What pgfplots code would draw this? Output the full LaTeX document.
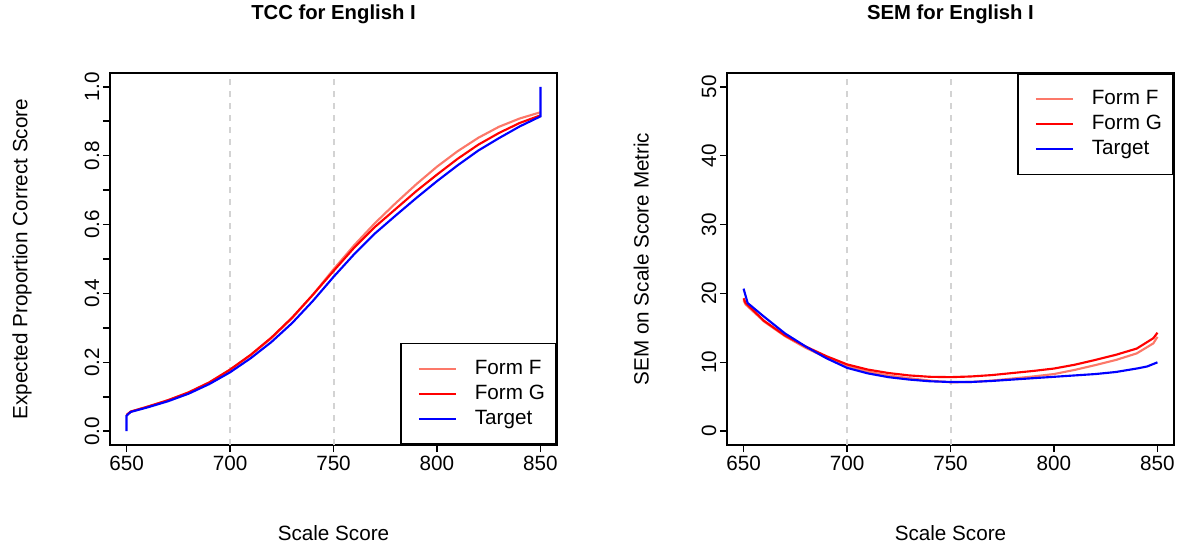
\documentclass[border=0pt]{standalone}
\usepackage{pgfplots}
\pgfplotsset{compat=1.18}
\usepackage{fontspec}
\setmainfont{Liberation Sans}
\definecolor{formF}{RGB}{252,120,105}
\definecolor{gridgray}{RGB}{211,211,211}
\newcommand{\lblfont}{\fontsize{15.5}{18}\selectfont}
\pgfplotsset{
  myaxis/.style={
    scale only axis, width=335.25pt, height=279pt,
    xmin=642, xmax=858,
    xtick={650,700,750,800,850},
    tick align=outside, tick pos=left,
    major tick length=5.25pt, minor tick length=5.25pt,
    axis line style={line width=1.2pt},
    every tick/.style={black, line width=1.2pt},
    /pgf/number format/assume math mode=true,
    tick label style={font=\lblfont},
    label style={font=\lblfont},
    xticklabel style={anchor=north, inner sep=0pt, outer sep=2.7pt},
    yticklabel style={rotate=90, anchor=south, inner sep=0pt, outer sep=2.7pt},
    title style={font=\bfseries\fontsize{15.2}{18}\selectfont, at={(axis description cs:0.5,1.137)}, anchor=center, yshift=0pt},
    xlabel style={at={(axis description cs:0.5,-0.2366)}, anchor=center},
    legend cell align=left,
    legend image code/.code={
      \path[draw=none, fill=none] (-5pt,0pt) rectangle (42pt,0pt);
      \draw[##1] (0pt,0pt) -- (27.5pt,0pt);
    },
    legend style={draw=black, line width=1.2pt, font=\lblfont,
      inner xsep=8.5pt, inner ysep=12pt, row sep=4.75pt, column sep=0pt,
      nodes={inner sep=0pt, text height=11pt, text depth=3pt}},
  },
  curve/.style={line width=1.6pt},
  gline/.style={gridgray, line width=1.5pt, dash pattern=on 4.5pt off 4.5pt, forget plot},
}
\begin{document}
\begin{tikzpicture}
\useasboundingbox (0,0) rectangle (883.5pt,408pt);
% ---------------- TCC ----------------
\begin{axis}[myaxis, at={(82.5pt,74.25pt)}, anchor=south west,
  ymin=-0.04, ymax=1.04,
  ytick={0,0.2,0.4,0.6,0.8,1.0},
  minor ytick={0.1,0.3,0.5,0.7,0.9},
  yticklabel style={/pgf/number format/.cd, fixed, fixed zerofill, precision=1},
  title={TCC for English I},
  xlabel={Scale Score},
  ylabel={Expected Proportion Correct Score},
  ylabel style={at={(axis description cs:-0.197,0.5)}, anchor=center},
  legend style={at={(axis description cs:1,0)}, anchor=south east},
]
\addplot[gline] coordinates {(700,-0.04) (700,1.04)};
\addplot[gline] coordinates {(750,-0.04) (750,1.04)};
\addplot[curve, formF] coordinates {
(650,0.047) (652,0.057) (660,0.071) (670,0.090) (680,0.112) (690,0.141)
(700,0.178) (710,0.221) (720,0.270) (730,0.328) (740,0.396) (750,0.470)
(760,0.540) (770,0.604) (780,0.662) (790,0.717) (800,0.768) (810,0.813)
(820,0.852) (830,0.884) (840,0.908) (850,0.926)};
\addlegendentry{Form F}
\addplot[curve, red] coordinates {
(650,0.047) (652,0.057) (660,0.071) (670,0.090) (680,0.113) (690,0.142)
(700,0.179) (710,0.222) (720,0.272) (730,0.330) (740,0.396) (750,0.465)
(760,0.533) (770,0.593) (780,0.645) (790,0.697) (800,0.745) (810,0.791)
(820,0.832) (830,0.866) (840,0.895) (850,0.917)};
\addlegendentry{Form G}
\addplot[curve, blue] coordinates {
(650,0) (650,0.045) (652,0.056) (660,0.069) (670,0.087) (680,0.109)
(690,0.137) (700,0.171) (710,0.212) (720,0.259) (730,0.314) (740,0.378)
(750,0.448) (760,0.514) (770,0.574) (780,0.626) (790,0.677) (800,0.726)
(810,0.772) (820,0.815) (830,0.851) (840,0.885) (850,0.914) (850,1.0)};
\addlegendentry{Target}
\end{axis}
% ---------------- SEM ----------------
\begin{axis}[myaxis, at={(545.25pt,74.25pt)}, anchor=south west,
  ymin=-2, ymax=52,
  ytick={0,10,20,30,40,50},
  title={SEM for English I},
  xlabel={Scale Score},
  ylabel={SEM on Scale Score Metric},
  ylabel style={at={(axis description cs:-0.192,0.5)}, anchor=center},
  legend style={at={(axis description cs:1,1)}, anchor=north east},
]
\addplot[gline] coordinates {(700,-2) (700,52)};
\addplot[gline] coordinates {(750,-2) (750,52)};
\addplot[curve, formF] coordinates {
(650,19.0) (651,18.4) (660,15.9) (670,13.8) (680,12.1) (690,10.7) (700,9.5)
(710,8.65) (720,8.1) (730,7.7) (740,7.35) (750,7.1) (760,7.15) (770,7.35)
(780,7.65) (790,7.95) (800,8.3) (810,8.9) (820,9.6) (830,10.35) (840,11.3)
(848,12.75) (850,13.7)};
\addlegendentry{Form F}
\addplot[curve, red] coordinates {
(650,19.3) (651,18.6) (660,16.0) (670,13.9) (680,12.3) (690,10.9) (700,9.7)
(710,8.95) (720,8.45) (730,8.1) (740,7.9) (750,7.85) (760,7.95) (770,8.15)
(780,8.45) (790,8.75) (800,9.1) (810,9.65) (820,10.35) (830,11.1) (840,12.0)
(848,13.5) (850,14.3)};
\addlegendentry{Form G}
\addplot[curve, blue] coordinates {
(650,20.7) (652,18.6) (660,16.6) (670,14.2) (680,12.3) (690,10.6) (700,9.2)
(710,8.4) (720,7.85) (730,7.5) (740,7.25) (750,7.15) (760,7.15) (770,7.3)
(780,7.5) (790,7.7) (800,7.9) (810,8.1) (820,8.3) (830,8.6) (840,9.1)
(845,9.4) (850,10.0)};
\addlegendentry{Target}
\end{axis}
\end{tikzpicture}
\end{document}
